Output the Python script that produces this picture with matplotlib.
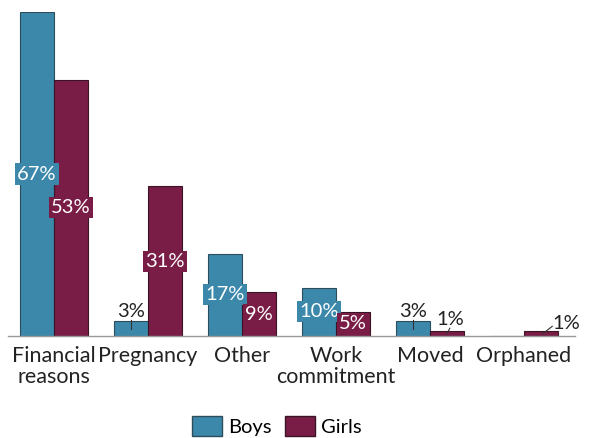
import numpy as np
import matplotlib.pyplot as plt
from matplotlib.patches import Patch

reasons = ['Financial\nreasons', 'Pregnancy', 'Other', 'Work\ncommitment', 'Moved', 'Orphaned']
boys = [67, 3, 17, 10, 3, 0]
girls = [53, 31, 9, 5, 1, 1]

BLUE = '#3b88ab'
MAROON = '#7a1d46'
plt.rcParams['font.family'] = ['Lato', 'DejaVu Sans']

W, H = 590, 438
fig = plt.figure(figsize=(W / 100, H / 100), dpi=100)
# axes placed in pixel units: left edge 8, right edge 575, baseline at y=336
ax = fig.add_axes([8 / W, (H - 336) / H, 567 / W, 324 / H])

x = np.arange(len(reasons))
bw = 34 / 94
bb = ax.bar(x - bw / 2, boys, bw, color=BLUE, edgecolor='#2e4d5c', linewidth=0.8)
bg = ax.bar(x + bw / 2, girls, bw, color=MAROON, edgecolor='#3a1424', linewidth=0.8)

ax.set_xlim(-46 / 94, 5 + 51 / 94)
ax.set_ylim(0, 67)

LBL = 14.5

def boxed(xc, v, color):
    ax.text(xc, v / 2, f'{v}%', ha='center', va='center', color='white', fontsize=LBL,
            bbox=dict(boxstyle='square,pad=0.1', fc=color, ec='none'), zorder=5)

for i in range(len(reasons)):
    if boys[i] >= 10:
        boxed(x[i] - bw / 2, boys[i], BLUE)
    if girls[i] >= 5:
        boxed(x[i] + bw / 2, girls[i], MAROON)

# small values get an outside label with a leader tick
def outside(xc, v, tx, ty):
    ax.plot([xc, tx], [v / 2, ty], color='#333333', lw=0.8, zorder=6)
    ax.text(tx, ty, f'{v}%', ha='center', va='bottom', fontsize=LBL, color='#222222')

outside(x[1] - bw / 2, 3, x[1] - bw / 2, 3.4)
outside(x[4] - bw / 2, 3, x[4] - bw / 2, 3.4)
outside(x[4] + bw / 2, 1, x[4] + bw / 2 + 0.03, 1.6)
ax.plot([x[5] + bw / 2 + 0.02, x[5] + bw / 2 + 0.12], [0.5, 2.0], color='#333333', lw=0.8)
ax.text(x[5] + bw / 2 + 0.12, 0.9, '1%', ha='left', va='bottom', fontsize=LBL, color='#222222')

ax.set_xticks(x)
ax.set_xticklabels(reasons, fontsize=15.5, color='#222222', linespacing=1.05)
ax.tick_params(axis='x', length=0, pad=7)
ax.set_yticks([])
for s in ['top', 'right', 'left']:
    ax.spines[s].set_visible(False)
ax.spines['bottom'].set_color('#999999')
ax.spines['bottom'].set_linewidth(1.0)

handles = [Patch(fc=BLUE, ec='#2e4d5c', label='Boys'), Patch(fc=MAROON, ec='#3a1424', label='Girls')]
fig.legend(handles=handles, loc='center', bbox_to_anchor=(277 / W, 1 - 426 / H), ncol=2,
           frameon=False, fontsize=14.5, handlelength=1.5, handleheight=1.2,
           handletextpad=0.3, columnspacing=0.65, borderpad=0)

fig.savefig('out.png', dpi=100)
